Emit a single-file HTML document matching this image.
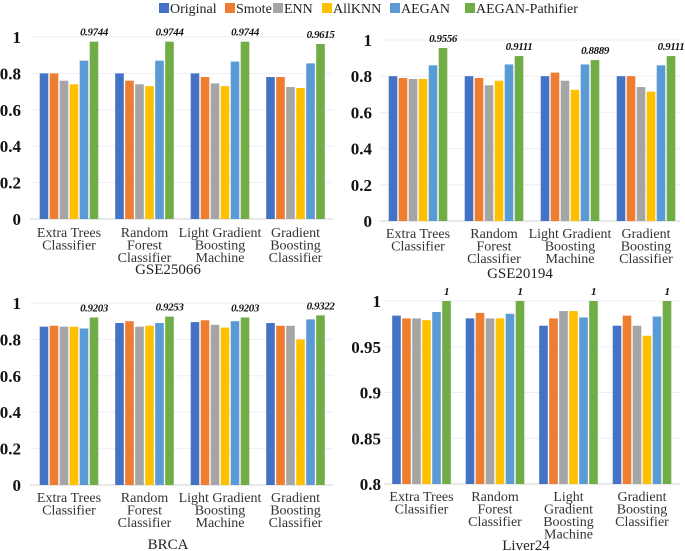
<!DOCTYPE html>
<html><head><meta charset="utf-8"><style>
body{margin:0;background:#fff;font-family:"Liberation Serif",serif;}
svg{display:block;font-family:"Liberation Serif",serif;}
</style></head><body>
<svg id="chart" width="685" height="551" viewBox="0 0 685 551" style="font-family:'Liberation Serif',serif"></svg>
<script>
const seriesNames=["Original","Smote","ENN","AllKNN","AEGAN","AEGAN-Pathifier"];
const colors=["#4472c4","#ed7d31","#a5a5a5","#ffc000","#5b9bd5","#70ad47"];
const categories=[["Extra Trees","Classifier"],["Random","Forest","Classifier"],["Light Gradient","Boosting","Machine"],["Gradient","Boosting","Classifier"]];
const categoriesLiver=[["Extra Trees","Classifier"],["Random","Forest","Classifier"],["Light","Gradient","Boosting","Machine"],["Gradient","Boosting","Classifier"]];
const gse25066=[[0.80,0.80,0.76,0.74,0.87,0.9744],[0.80,0.76,0.74,0.73,0.87,0.9744],[0.80,0.78,0.745,0.73,0.865,0.9744],[0.78,0.78,0.725,0.72,0.855,0.9615]];
const gse25066Labels=["0.9744","0.9744","0.9744","0.9615"];
const gse20194=[[0.80,0.79,0.785,0.785,0.86,0.9556],[0.80,0.79,0.75,0.775,0.865,0.9111],[0.80,0.82,0.775,0.725,0.865,0.8889],[0.80,0.80,0.74,0.715,0.86,0.9111]];
const gse20194Labels=["0.9556","0.9111","0.8889","0.9111"];
const brca=[[0.87,0.875,0.87,0.87,0.86,0.9203],[0.89,0.90,0.87,0.875,0.89,0.9253],[0.895,0.905,0.88,0.865,0.90,0.9203],[0.89,0.875,0.875,0.80,0.91,0.9322]];
const brcaLabels=["0.9203","0.9253","0.9203","0.9322"];
const liver24=[[0.984,0.981,0.981,0.979,0.988,1],[0.981,0.987,0.981,0.981,0.986,1],[0.973,0.981,0.989,0.989,0.982,1],[0.973,0.984,0.973,0.962,0.983,1]];
const liver24Labels=["1","1","1","1"];
const ticks01=["0","0.2","0.4","0.6","0.8","1"];
const ticksLiver=["0.8","0.85","0.9","0.95","1"];

const NS="http://www.w3.org/2000/svg";
const svg=document.getElementById('chart');
function mk(tag,attrs,parent,text){const e=document.createElementNS(NS,tag);for(const k in attrs)e.setAttribute(k,attrs[k]);if(text!==undefined)e.textContent=text;(parent||svg).appendChild(e);return e;}
function txt(x,y,size,anchor,fill,extra,parent,t){
  const e=mk('text',{x:x,y:y,'text-anchor':anchor,fill:fill},parent,t);
  e.setAttribute('style',"font-family:'Liberation Serif',serif;font-size:"+size+"px;"+(extra||''));
  return e;
}

const legX=[159,225,273,322,390,465];
seriesNames.forEach((n,i)=>{
  const g=mk('g',{});
  
  
  mk('rect',{x:legX[i],y:3,width:10,height:10,fill:colors[i]},g);
  txt(legX[i]+11,13,14,'start','#222','',g,n);
});

function panel(p){
  const g=mk('g',{});
  
  
  const ymin=p.ymin,ymax=p.ymax;
  const yS=v=>p.y0+(v-ymin)/(ymax-ymin)*(p.y1-p.y0);
  p.ticks.forEach(t=>{
    const v=parseFloat(t),y=yS(v);
    if(v!==ymin) mk('line',{x1:p.ax0,x2:p.ax1,y1:y,y2:y,stroke:'#eeeef6','stroke-width':1},g);
    const tl=txt(p.lx,y+6,17,'end','#111','font-weight:bold;',g,t);
    
    
  });
  mk('line',{x1:p.ax0,x2:p.ax1,y1:p.y0,y2:p.y0,stroke:'#d0d0d0','stroke-width':1},g);
  const bw=8.6,step=10;
  p.data.forEach((vals,ci)=>{
    const cx=p.gx0+ci*p.gstep;
    vals.forEach((v,si)=>{
      const x=cx-3*step+si*step+0.7;
      const r=mk('rect',{x:x,y:yS(v),width:bw,height:p.y0-yS(v),fill:colors[si]},g);
      
      
    });
    const top=yS(vals[5]);
    const vl=txt(cx+step*2.5,top-6,11,'middle','#111','font-weight:bold;font-style:italic;letter-spacing:-0.4px;',g,p.labels[ci]);
    
    
    p.cats[ci].forEach((line,li)=>{
      const cl=txt(cx,p.cy+li*12.5,14,'middle','#333','',g,line);
      
      
    });
  });
  const tt=txt(p.tx,p.ty,15,'middle','#222','',g,p.title);
  
  
}
panel({name:'panel-gse25066',data:gse25066,labels:gse25066Labels,ticks:ticks01,ymin:0,ymax:1,y0:219,y1:37,ax0:30,ax1:333,lx:21,gx0:69,gstep:75.5,cats:categories,cy:237,title:'GSE25066',tx:168,ty:274});
panel({name:'panel-gse20194',data:gse20194,labels:gse20194Labels,ticks:ticks01,ymin:0,ymax:1,y0:221,y1:40,ax0:380,ax1:680,lx:372,gx0:418,gstep:76,cats:categories,cy:238,title:'GSE20194',tx:520,ty:278});
panel({name:'panel-brca',data:brca,labels:brcaLabels,ticks:ticks01,ymin:0,ymax:1,y0:485,y1:303,ax0:30,ax1:333,lx:21,gx0:69,gstep:75.5,cats:categories,cy:502,title:'BRCA',tx:168,ty:549});
panel({name:'panel-liver24',data:liver24,labels:liver24Labels,ticks:ticksLiver,ymin:0.8,ymax:1,y0:484,y1:301,ax0:384,ax1:680,lx:381,gx0:421.5,gstep:73.5,cats:categoriesLiver,cy:501,title:'Liver24',tx:526,ty:550});
</script>
</body></html>
